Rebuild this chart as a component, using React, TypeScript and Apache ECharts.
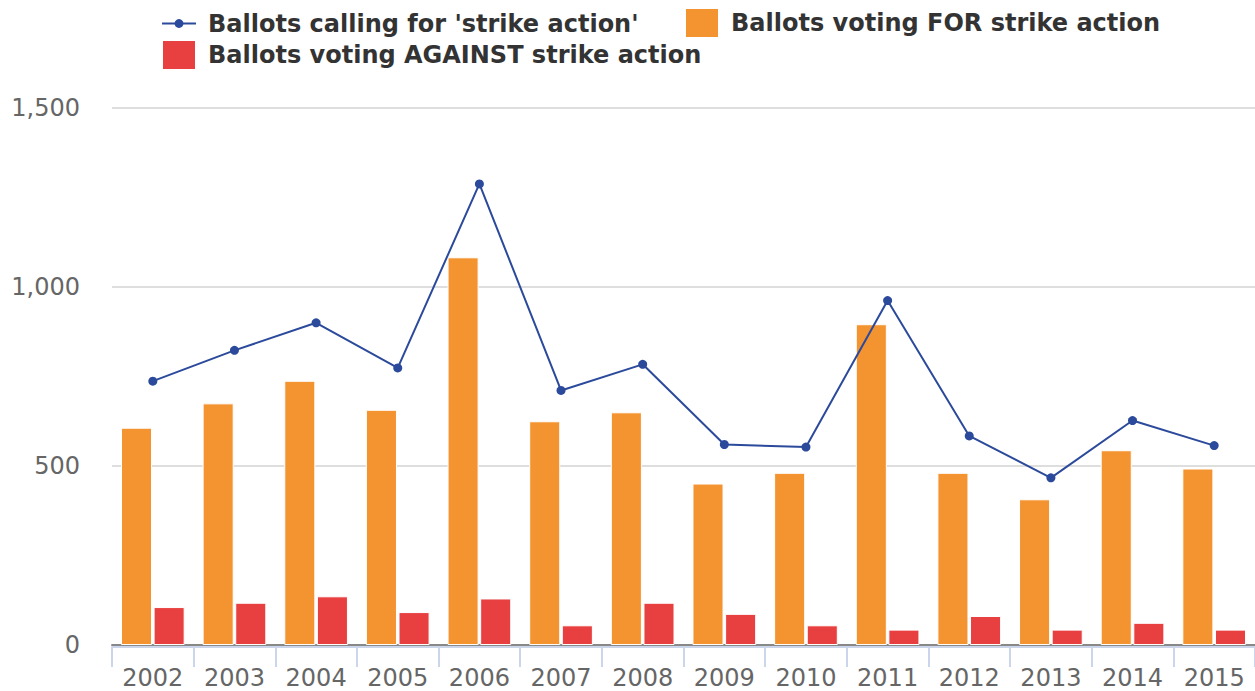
import React, { useEffect, useRef } from "react";
import * as echarts from "echarts";

const years = ["2002","2003","2004","2005","2006","2007","2008","2009","2010","2011","2012","2013","2014","2015"];
const callingStrike = [737, 823, 900, 774, 1288, 711, 784, 560, 553, 962, 584, 467, 627, 557];
const votingFor = [607, 675, 738, 657, 1083, 625, 650, 451, 481, 896, 481, 407, 544, 493];
const votingAgainst = [106, 118, 136, 92, 130, 55, 118, 87, 55, 43, 81, 43, 62, 43];
const yTicks = [0, 500, 1000, 1500];

const NAME_LINE = "Ballots calling for 'strike action'";
const NAME_FOR = "Ballots voting FOR strike action";
const NAME_AGAINST = "Ballots voting AGAINST strike action";

const FONT = "DejaVu Sans";

export default function App() {
  const ref = useRef<HTMLDivElement>(null);
  useEffect(() => {
    if (!ref.current) return;
    const chart = echarts.init(ref.current, null, { renderer: "svg" });
    const legendText = {
      fontFamily: FONT,
      fontSize: 24,
      fontWeight: "bold",
      color: "#333333",
      padding: [0, 0, 0, 7],
    };
    chart.setOption({
      animation: false,
      textStyle: { fontFamily: FONT },
      legend: [
        {
          padding: 0, left: 161, top: 11.5, itemWidth: 34, itemHeight: 11,
          textStyle: legendText, data: [NAME_LINE],
        },
        {
          padding: 0, left: 684, top: 7, itemWidth: 34, itemHeight: 30,
          textStyle: legendText, data: [{ name: NAME_FOR, icon: "rect" }],
        },
        {
          padding: 0, left: 161, top: 39, itemWidth: 34, itemHeight: 30,
          textStyle: legendText, data: [{ name: NAME_AGAINST, icon: "rect" }],
        },
      ],
      grid: { left: 112, right: 0, top: 108, bottom: 46, containLabel: false },
      xAxis: [
        {
          type: "category",
          data: years,
          boundaryGap: true,
          axisLine: { show: true, lineStyle: { color: "#888888", width: 2 } },
          axisTick: { show: false },
          axisLabel: { show: false },
          splitLine: { show: false },
        },
        {
          type: "category",
          data: years,
          position: "bottom",
          offset: 2,
          boundaryGap: true,
          axisLine: { show: true, lineStyle: { color: "#ccd6eb", width: 2 } },
          axisTick: { show: true, alignWithLabel: false, length: 20, lineStyle: { color: "#ccd6eb", width: 2 } },
          axisLabel: { show: true, fontFamily: FONT, fontSize: 24, color: "#666666", margin: 19 },
          splitLine: { show: false },
        },
      ],
      yAxis: {
        type: "value",
        min: yTicks[0],
        max: yTicks[yTicks.length - 1],
        interval: 500,
        axisLine: { show: false },
        axisTick: { show: false },
        axisLabel: {
          fontFamily: FONT,
          fontSize: 24,
          color: "#666666",
          margin: 32,
          formatter: (v: number) => v.toLocaleString("en-US"),
        },
        splitLine: { lineStyle: { color: "#dedede", width: 2 } },
      },
      series: [
        {
          name: NAME_LINE,
          type: "line",
          data: callingStrike,
          symbol: "circle",
          symbolSize: 9,
          z: 5,
          lineStyle: { color: "#2b4a9b", width: 2 },
          itemStyle: { color: "#2b4a9b" },
        },
        {
          name: NAME_FOR,
          type: "bar",
          data: votingFor,
          barCategoryGap: "22%",
          barGap: "5%",
          z: 3,
          itemStyle: { color: "#f49431", borderColor: "#ffffff", borderWidth: 1 },
        },
        {
          name: NAME_AGAINST,
          type: "bar",
          data: votingAgainst,
          barCategoryGap: "22%",
          barGap: "5%",
          z: 3,
          itemStyle: { color: "#e84040", borderColor: "#ffffff", borderWidth: 1 },
        },
      ],
    });
    return () => chart.dispose();
  }, []);
  return (
    <div
      ref={ref}
      style={{ position: "fixed", left: 0, top: 0, width: 1255, height: 691, background: "#ffffff" }}
    />
  );
}
